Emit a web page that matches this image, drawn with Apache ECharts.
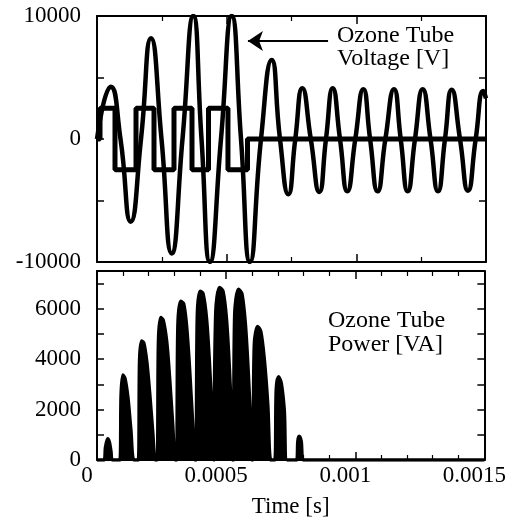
<!DOCTYPE html>
<html>
<head>
<meta charset="utf-8">
<script src="https://cdn.jsdelivr.net/npm/echarts@6/dist/echarts.min.js"></script>
<style>
html,body{margin:0;padding:0;background:#fff;}
#c{width:509px;height:521px;}
</style>
</head>
<body>
<div id="c"></div>
<script>
// time values in microseconds (axis labels shown in seconds)
const timeV = [0, 52.8, 90.6, 130.0, 169.7, 208.2, 248.7, 288.0, 329.7, 371.3, 403.0, 435.7, 478.1, 519.4, 555.3, 590.0, 632.4, 673.6, 705.6, 737.7, 764.6, 791.6, 824.4, 857.2, 883.0, 908.9, 937.0, 965.2, 996.0, 1026.9, 1053.0, 1082.0, 1112.0, 1145.2, 1171.1, 1198.1, 1226.2, 1255.9, 1286.0, 1314.9, 1341.9, 1367.7, 1399.7, 1430.6, 1460.3, 1489.6, 1500];
const voltage = [0, 4250, 0, -6720, 0, 8190, 0, -9300, 0, 10000, 0, -10000, 0, 10000, 0, -10000, 0, 6420, 0, -4500, 0, 4120, 0, -4300, 0, 4120, 0, -4250, 0, 4050, 0, -4250, 0, 4050, 0, -4250, 0, 4050, 0, -4250, 0, 4000, 0, -4200, 0, 3900, 3300];

const timeSq = [0, 11.6, 69.4, 150.4, 219.8, 296.9, 366.3, 429.9, 505.0, 580.3, 1500];
const square = [0, 2500, -2500, 2500, -2500, 2500, -2500, 2500, -2500, 0, 0];

const timeP = [0,
  27.0, 32.8, 41.3, 48.2, 54.0, 59.8,
  88.7, 93.3, 100.3, 108.0, 119.5, 131.1, 142.7,
  160.0, 164.7, 172.4, 181.2, 192.8, 204.4, 215.9, 225.6,
  233.3, 237.9, 246.8, 256.4, 269.9, 281.5, 293.1, 302.7,
  308.5, 313.1, 323.9, 335.5, 347.0, 358.6, 370.2, 379.8,
  383.7, 388.3, 399.1, 410.6, 424.2, 435.7, 446.2, 453.1,
  455.0, 460.0, 474.3, 487.8, 501.3, 512.8, 522.5, 525.2,
  528.3, 533.3, 547.6, 561.0, 574.5, 586.1, 595.8, 599.6,
  603.5, 609.2, 621.9, 634.3, 647.8, 661.3, 672.9,
  688.3, 694.1, 703.0, 713.4, 725.0, 736.5,
  773.1, 777.7, 782.8, 790.5, 800.1,
  1500];
const power = [0,
  0, 500, 840, 700, 350, 0,
  0, 2600, 3370, 3250, 2500, 1200, 0,
  0, 3900, 4720, 4650, 3900, 2600, 1100, 0,
  0, 4700, 5650, 5550, 4700, 3200, 1400, 0,
  0, 5300, 6300, 6200, 5300, 3600, 1500, 0,
  0, 5700, 6700, 6600, 5600, 3800, 1600, 0,
  0, 5900, 6850, 6700, 5600, 3600, 1200, 0,
  0, 5800, 6780, 6600, 5400, 3400, 1200, 0,
  0, 4600, 5300, 5100, 4000, 2200, 0,
  0, 2800, 3300, 3050, 2000, 0,
  0, 750, 940, 750, 0,
  0];

const arrowFrom = [891, 7970];
const arrowTo = [582, 7970];

const FONT = "'Liberation Serif', 'DejaVu Serif', serif";
const zip = (a, b) => a.map((v, i) => [v, b[i]]);

function xAx(grid, pos, labels, minorSplit) {
  return {
    type: 'value', gridIndex: grid, position: pos, min: 0, max: 1500, interval: 500,
    axisLine: { show: true, onZero: false, lineStyle: { color: '#000', width: 2 } },
    axisTick: { show: true, inside: true, length: 8, lineStyle: { color: '#000', width: 1.5 } },
    minorTick: { show: true, splitNumber: minorSplit, length: 5, lineStyle: { color: '#000', width: 1.2 } },
    splitLine: { show: false },
    axisLabel: {
      show: labels, color: '#000', fontFamily: FONT, fontSize: 23, margin: 4,
      padding: [0, 20, 0, 0],
      formatter: v => String(v / 1e6)
    }
  };
}
function yAx(grid, pos, min, max, interval, labels, fmt) {
  return {
    type: 'value', gridIndex: grid, position: pos, min: min, max: max, interval: interval,
    axisLine: { show: true, onZero: false, lineStyle: { color: '#000', width: 2 } },
    axisTick: { show: true, inside: true, length: 7, lineStyle: { color: '#000', width: 1.5 } },
    splitLine: { show: false },
    axisLabel: { show: labels, color: '#000', fontFamily: FONT, fontSize: 23, margin: 16, formatter: fmt }
  };
}

const xAxes = [xAx(0, 'bottom', false, 2), xAx(0, 'top', false, 2), xAx(1, 'bottom', true, 5), xAx(1, 'top', false, 5)];
xAxes[2].name = 'Time [s]';
xAxes[2].nameLocation = 'middle';
xAxes[2].nameGap = 35;
xAxes[2].nameTextStyle = { color: '#000', fontFamily: FONT, fontSize: 23 };

const chart = echarts.init(document.getElementById('c'), null, { renderer: 'canvas' });
chart.setOption({
  animation: false,
  backgroundColor: '#fff',
  grid: [
    { left: 97, top: 16, width: 389, height: 246 },
    { left: 97, top: 271, width: 389, height: 189 }
  ],
  xAxis: xAxes,
  yAxis: [
    yAx(0, 'left', -10000, 10000, 5000, true, v => (v % 10000 === 0 ? String(v) : '')),
    yAx(0, 'right', -10000, 10000, 5000, false),
    yAx(1, 'left', 0, 7500, 1000, true, v => (v % 2000 === 0 ? String(v) : '')),
    yAx(1, 'right', 0, 7500, 1000, false)
  ],
  series: [
    {
      type: 'line', xAxisIndex: 0, yAxisIndex: 0, data: zip(timeSq, square), step: 'end',
      showSymbol: false, lineStyle: { color: '#000', width: 5 }
    },
    {
      type: 'line', xAxisIndex: 0, yAxisIndex: 0, data: zip(timeV, voltage), smooth: 0.55,
      showSymbol: false, lineStyle: { color: '#000', width: 4.5 },
      markLine: {
        silent: true, animation: false,
        symbol: ['none', 'arrow'], symbolSize: 15,
        label: { show: false },
        lineStyle: { color: '#000', width: 2, type: 'solid' },
        data: [[{ coord: arrowFrom }, { coord: arrowTo }]]
      }
    },
    {
      type: 'line', xAxisIndex: 2, yAxisIndex: 2, data: zip(timeP, power), smooth: 0.3,
      showSymbol: false, lineStyle: { color: '#000', width: 3.5 },
      areaStyle: { color: '#000', opacity: 1 }
    }
  ],
  graphic: [
    { type: 'text', left: 337, top: 24, style: { text: 'Ozone Tube\nVoltage [V]', font: "24px " + FONT, fill: '#000', lineHeight: 23 } },
    { type: 'text', left: 328, top: 309, style: { text: 'Ozone Tube\nPower [VA]', font: "24px " + FONT, fill: '#000', lineHeight: 24 } }
  ]
});
</script>
</body>
</html>
